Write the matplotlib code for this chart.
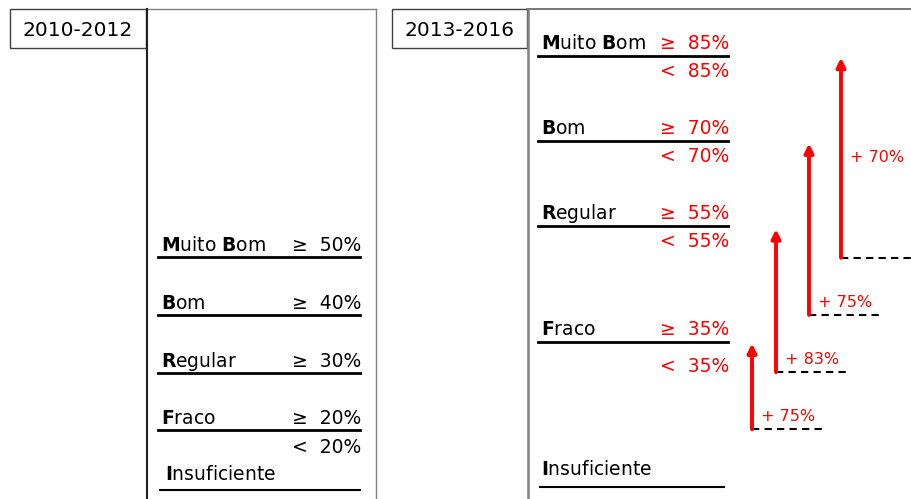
"""Grading thresholds 2010-2012 vs 2013-2016, with the increase of each threshold."""

import matplotlib
matplotlib.use("Agg")
import matplotlib.pyplot as plt

plt.rcParams["font.family"] = ["DejaVu Sans"]
plt.rcParams["mathtext.fontset"] = "custom"
plt.rcParams["mathtext.rm"] = "DejaVu Sans"
plt.rcParams["mathtext.bf"] = "DejaVu Sans:bold"

# data
periods = ["2010-2012", "2013-2016"]
grades = ["Muito Bom", "Bom", "Regular", "Fraco", "Insuficiente"]
old_thresholds = [50, 40, 30, 20]
new_thresholds = [85, 70, 55, 35]
increase_labels = ["+ 70%", "+ 75%", "+ 83%", "+ 75%"]

RED = "#ff0000"
FS = 13.5


def bold_initials(name):
    return " ".join(r"$\mathbf{%s}$%s" % (w[0], w[1:]) for w in name.split())


fig = plt.figure(figsize=(9.12, 4.99), dpi=100)
ax = fig.add_axes([0, 0, 1, 1])
ax.set_xlim(0, 912)
ax.set_ylim(499, 0)
ax.axis("off")

# year boxes and panel frames
for label, (x0, x1) in zip(periods, [(10, 146), (392, 527)]):
    ax.add_patch(plt.Rectangle((x0, 9), x1 - x0, 39, fill=False,
                               ec="#404040", lw=1))
    ax.text((x0 + x1) / 2, 30, label, ha="center", va="center", fontsize=14.5)
ax.plot([146, 376], [9, 9], color="#808080", lw=1)
ax.plot([147, 147], [9, 499], color="#202020", lw=1.5)
ax.plot([376, 376], [9, 499], color="#808080", lw=1)
ax.plot([527, 912], [9, 9], color="#606060", lw=1.2)
ax.plot([528, 528], [9, 499], color="#808080", lw=1.8)

# left panel: old scale
left_lines = [257, 315, 373, 430]
for name, thr, yl in zip(grades, old_thresholds, left_lines):
    ax.plot([158, 360], [yl, yl], color="black", lw=2)
    ax.text(161, yl - 6, bold_initials(name), fontsize=FS, va="baseline")
    ax.text(361, yl - 6, f"\u2265  {thr}%", fontsize=FS, va="baseline",
            ha="right")
ax.text(361, 453, f"<  {old_thresholds[-1]}%", fontsize=FS, va="baseline",
        ha="right")
ax.text(165, 480, bold_initials(grades[-1]), fontsize=FS, va="baseline")
ax.plot([160, 360], [490, 490], color="black", lw=1.5)

# right panel: new scale
right_lines = [56, 141, 226, 342]
below_base = [77, 162, 247, 372]
for name, thr, yl, yb in zip(grades, new_thresholds, right_lines, below_base):
    ax.plot([538, 728], [yl, yl], color="black", lw=2)
    ax.text(541, yl - 7, bold_initials(name), fontsize=FS, va="baseline")
    ax.text(729, yl - 7, f"\u2265  {thr}%", fontsize=FS, va="baseline",
            ha="right", color=RED)
    ax.text(729, yb, f"<  {thr}%", fontsize=FS, va="baseline",
            ha="right", color=RED)
ax.text(541, 475, bold_initials(grades[-1]), fontsize=FS, va="baseline")
ax.plot([540, 724], [487, 487], color="black", lw=1.5)

# arrows: percent axis overlaid on the right side
ax2 = fig.add_axes([0, 0, 1, 1], facecolor="none")
ax2.set_xlim(0, 912)
ax2.set_ylim(7.8, 95.1)
ax2.axis("off")

arrow_x = [841, 809, 776, 752]
for i, (x, old, new, lab) in enumerate(zip(arrow_x, old_thresholds,
                                           new_thresholds, increase_labels)):
    ax2.plot([x, x + 72], [old, old], color="black", lw=1.5,
             ls=(0, (3.5, 2.5)))
    ax2.annotate("", xy=(x, new), xytext=(x, old),
                 arrowprops=dict(arrowstyle="-|>", color=RED, lw=2.8,
                                 mutation_scale=13, shrinkA=0, shrinkB=0))
    if i == 0:
        ax2.text(x + 9, (old + new) / 2, lab, color=RED, fontsize=11.5,
                 va="center")
    else:
        ax2.text(x + 9, old + 0.9, lab, color=RED, fontsize=11.5,
                 va="bottom")

fig.savefig("out.png", dpi=100)
